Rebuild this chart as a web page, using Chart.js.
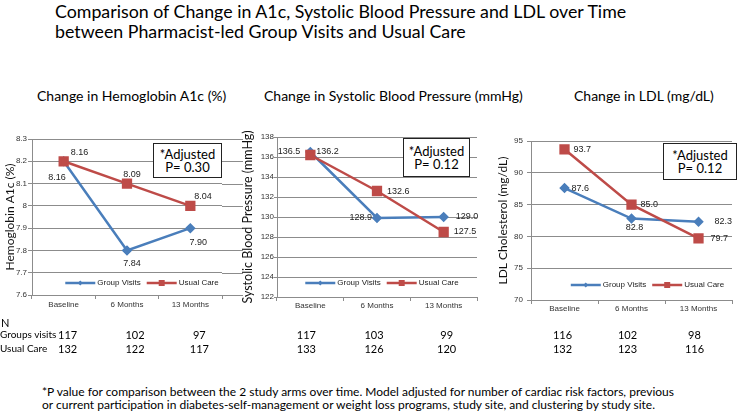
<!DOCTYPE html>
<html>
<head>
<meta charset="utf-8">
<script src="https://cdn.jsdelivr.net/npm/chart.js@4.4.0/dist/chart.umd.min.js"></script>
<style>
  body { margin: 0; width: 740px; height: 419px; background: #fff; position: relative; overflow: hidden; font-family: Lato, sans-serif; color: #000; }
  .abs { position: absolute; white-space: nowrap; }
  .title { left: 55px; top: 1px; font-size: 17.8px; line-height: 20px; }
  .sub { top: 87px; font-size: 14px; }
  .box { border: 1px solid #222; background: #fff; text-align: center; font-size: 13px; line-height: 13px; padding-top: 4px; box-sizing: border-box; }
  .ntxt { font-size: 11px; transform: translateX(-50%); }
  .foot { left: 42px; top: 385px; font-size: 12px; line-height: 13px; }
  canvas { position: absolute; }
</style>
</head>
<body>
<div class="abs title">Comparison of Change in A1c, Systolic Blood Pressure and LDL over Time<br>between Pharmacist-led Group Visits and Usual Care</div>
<div class="abs sub" style="left:37px">Change in Hemoglobin A1c (%)</div>
<div class="abs sub" style="left:264px">Change in Systolic Blood Pressure (mmHg)</div>
<div class="abs sub" style="left:574px">Change in LDL (mg/dL)</div>

<canvas id="a1cChart" width="250" height="200" style="left:0;top:120px"></canvas>
<canvas id="sbpChart" width="262" height="200" style="left:238px;top:120px"></canvas>
<canvas id="ldlChart" width="250" height="200" style="left:490px;top:120px"></canvas>

<div class="abs box" style="left:153px;top:143px;width:69px;height:35px">*Adjusted<br>P= 0.30</div>
<div class="abs box" style="left:403px;top:138px;width:67px;height:39px;padding-top:6px">*Adjusted<br>P= 0.12</div>
<div class="abs box" style="left:663px;top:143px;width:74px;height:37px;padding-top:5px">*Adjusted<br>P= 0.12</div>

<div class="abs" style="left:1px;top:316px;font-size:11px">N</div>
<div class="abs" style="left:0;top:328px;font-size:10px">Groups visits</div>
<div class="abs" style="left:0;top:342px;font-size:10px">Usual Care</div>
<div id="nTable"></div>

<div class="abs foot">*P value for comparison between the 2 study arms over time. Model adjusted for number  of cardiac risk factors, previous<br>or current participation in diabetes-self-management or weight loss programs, study site, and clustering by study site.</div>

<script>
const timepoints = ['Baseline', '6 Months', '13 Months'];
const seriesNames = ['Group Visits', 'Usual Care'];

// A1c markers sit on rounded values in the original, labels carry the means
const a1cGroup = [8.2, 7.8, 7.9];
const a1cUsual = [8.2, 8.1, 8.0];
const a1cGroupLabels = ['8.16', '7.84', '7.90'];
const a1cUsualLabels = ['8.16', '8.09', '8.04'];

// SBP: later markers are drawn about 1 mmHg above their printed labels
const sbpGroup = [136.5, 129.9, 130.0];
const sbpUsual = [136.2, 132.6, 128.5];
const sbpGroupLabels = ['136.5', '128.9', '129.0'];
const sbpUsualLabels = ['136.2', '132.6', '127.5'];

const ldlGroup = [87.6, 82.8, 82.3];
const ldlUsual = [93.7, 85.0, 79.7];

// patients per arm at each timepoint
const nGroupA1c = [117, 102, 97];
const nUsualA1c = [132, 122, 117];
const nGroupSbp = [117, 103, 99];
const nUsualSbp = [133, 126, 120];
const nGroupLdl = [116, 102, 98];
const nUsualLdl = [132, 123, 116];

const BLUE = '#4A7EBB';
const RED = '#BE4B48';
const GRID = '#8c8c8c';

// text next to each point, offsets per point: [dx, dy, align]
const valueLabels = {
  id: 'valueLabels',
  afterDatasetsDraw(chart, args, opts) {
    const ctx = chart.ctx;
    ctx.save();
    ctx.font = '9px Arial';
    ctx.fillStyle = '#222';
    ctx.textBaseline = 'middle';
    chart.data.datasets.forEach((ds, i) => {
      const meta = chart.getDatasetMeta(i);
      meta.data.forEach((pt, j) => {
        const [dx, dy, align] = opts.place[i][j];
        ctx.textAlign = align;
        ctx.fillText(opts.text[i][j], pt.x + dx, pt.y + dy);
      });
    });
    ctx.restore();
  }
};

// legend drawn inside the plot, near the bottom
const innerLegend = {
  id: 'innerLegend',
  afterDraw(chart, args, opts) {
    const ctx = chart.ctx;
    const area = chart.chartArea;
    ctx.save();
    ctx.font = '8px Arial';
    ctx.textBaseline = 'middle';
    const lineLen = 30, gap = 2, itemGap = 6;
    let total = 0;
    chart.data.datasets.forEach(ds => { total += lineLen + gap + ctx.measureText(ds.label).width; });
    total += itemGap;
    let x = (area.left + area.right) / 2 + opts.dx - total / 2;
    const y = area.bottom - opts.up;
    chart.data.datasets.forEach(ds => {
      ctx.strokeStyle = ds.borderColor;
      ctx.lineWidth = 2.5;
      ctx.beginPath();
      ctx.moveTo(x, y);
      ctx.lineTo(x + lineLen, y);
      ctx.stroke();
      ctx.fillStyle = ds.backgroundColor;
      const r = ds.pointStyle === 'rect' ? 3 : 2.5;
      ctx.beginPath();
      if (ds.pointStyle === 'rect') {
        ctx.rect(x + lineLen / 2 - r, y - r, 2 * r, 2 * r);
      } else {
        const cx = x + lineLen / 2;
        ctx.moveTo(cx - r, y); ctx.lineTo(cx, y - r); ctx.lineTo(cx + r, y); ctx.lineTo(cx, y + r);
        ctx.closePath();
      }
      ctx.fill();
      ctx.fillStyle = '#222';
      ctx.textAlign = 'left';
      ctx.fillText(ds.label, x + lineLen + gap, y);
      x += lineLen + gap + ctx.measureText(ds.label).width + itemGap;
    });
    ctx.restore();
  }
};

// the A1c panel's gridlines run a bit past the last category
const gridTail = {
  id: 'gridTail',
  beforeDatasetsDraw(chart, args, opts) {
    if (!opts.length) return;
    const ctx = chart.ctx;
    const y = chart.scales.y;
    ctx.save();
    ctx.strokeStyle = GRID;
    ctx.lineWidth = 1;
    y.ticks.forEach(t => {
      const py = Math.round(y.getPixelForValue(t.value)) + 0.5;
      ctx.beginPath();
      ctx.moveTo(chart.chartArea.right, py);
      ctx.lineTo(chart.chartArea.right + opts.length, py);
      ctx.stroke();
    });
    ctx.restore();
  }
};

function makeChart(id, c) {
  return new Chart(document.getElementById(id), {
    type: 'line',
    data: {
      labels: timepoints,
      datasets: [{
        label: seriesNames[0],
        data: c.group,
        borderColor: BLUE,
        backgroundColor: BLUE,
        borderWidth: 2.5,
        pointStyle: 'rectRot',
        pointRadius: 3.5,
        order: 1
      }, {
        label: seriesNames[1],
        data: c.usual,
        borderColor: RED,
        backgroundColor: RED,
        borderWidth: 2.5,
        pointStyle: 'rect',
        pointRadius: 5.5,
        order: 0
      }]
    },
    options: {
      responsive: false,
      animation: false,
      layout: { padding: c.padding },
      plugins: {
        legend: { display: false },
        tooltip: { enabled: false },
        valueLabels: { text: c.labels, place: c.place },
        innerLegend: c.legend,
        gridTail: { length: c.tail || 0 }
      },
      scales: {
        x: {
          offset: true,
          grid: { drawOnChartArea: false, offset: true, tickLength: 4, color: GRID },
          border: { color: GRID },
          ticks: { font: { family: 'Arial', size: 8 }, color: '#333', padding: c.xPad },
          afterFit: s => { s.height = c.xHeight; }
        },
        y: {
          min: c.min,
          max: c.max,
          grid: { color: GRID, tickLength: c.yTick },
          border: { color: GRID },
          ticks: {
            stepSize: c.step,
            font: { family: 'Arial', size: 8 },
            color: '#333',
            padding: c.yPad,
            callback: v => String(Number(v.toFixed(1)))
          },
          title: {
            display: true,
            text: c.title,
            font: { family: 'Lato', size: c.titleSize },
            color: '#111',
            padding: { top: c.titleTop, bottom: 0 }
          },
          afterFit: s => { s.width = c.yWidth; }
        }
      }
    },
    plugins: [valueLabels, innerLegend, gridTail]
  });
}

const charts = [
  makeChart('a1cChart', {
    group: a1cGroup, usual: a1cUsual,
    labels: [a1cGroupLabels, a1cUsualLabels],
    place: [[[2, 16, 'right'], [5, 13, 'center'], [8, 14, 'center']],
            [[7, -9, 'left'], [5, -9, 'center'], [4, -9, 'left']]],
    min: 7.6, max: 8.3, step: 0.1,
    title: 'Hemoglobin A1c (%)', titleSize: 12, titleTop: 3,
    padding: { top: 19, right: 28, left: 0, bottom: 0 },
    yWidth: 32, xHeight: 25, xPad: 1, yTick: 4, yPad: 1,
    legend: { dx: 15, up: 12 }, tail: 21
  }),
  makeChart('sbpChart', {
    group: sbpGroup, usual: sbpUsual,
    labels: [sbpGroupLabels, sbpUsualLabels],
    place: [[[-10, 0, 'right'], [-5, 0, 'right'], [12, 0, 'left']],
            [[6, -3, 'left'], [10, 1, 'left'], [10, 0, 'left']]],
    min: 122, max: 138, step: 2,
    title: 'Systolic Blood Pressure (mmHg)', titleSize: 12.5, titleTop: 2,
    padding: { top: 17, right: 23, left: 0, bottom: 0 },
    yWidth: 39, xHeight: 23, xPad: 0, yTick: 3, yPad: 0,
    legend: { dx: 5, up: 14 }
  }),
  makeChart('ldlChart', {
    group: ldlGroup, usual: ldlUsual,
    labels: [ldlGroup.map(v => v.toFixed(1)), ldlUsual.map(v => v.toFixed(1))],
    place: [[[7, 0, 'left'], [3, 9, 'center'], [16, 0, 'left']],
            [[9, 0, 'left'], [9, 0, 'left'], [12, 0, 'left']]],
    min: 70, max: 95, step: 5,
    title: 'LDL Cholesterol (mg/dL)', titleSize: 12, titleTop: 6,
    padding: { top: 21, right: 2, left: 0, bottom: 0 },
    yWidth: 41, xHeight: 20, xPad: 0, yTick: 4, yPad: 4,
    legend: { dx: 16, up: 15 }
  })
];

// N counts sit roughly under each category, nudged like the original table
const nShifts = [[4, 8, 9], [-4, -3, 3], [-2, -4, -4]];
const nRows = [[nGroupA1c, nUsualA1c], [nGroupSbp, nUsualSbp], [nGroupLdl, nUsualLdl]];
const nTable = document.getElementById('nTable');
charts.forEach((ch, k) => {
  const left = parseFloat(ch.canvas.style.left) || 0;
  nRows[k].forEach((row, r) => {
    row.forEach((n, i) => {
      const d = document.createElement('div');
      d.className = 'abs ntxt';
      d.style.left = (left + ch.scales.x.getPixelForValue(i) + nShifts[k][i]) + 'px';
      d.style.top = (r === 0 ? 328 : 342) + 'px';
      d.textContent = n;
      nTable.appendChild(d);
    });
  });
});
</script>
</body>
</html>
